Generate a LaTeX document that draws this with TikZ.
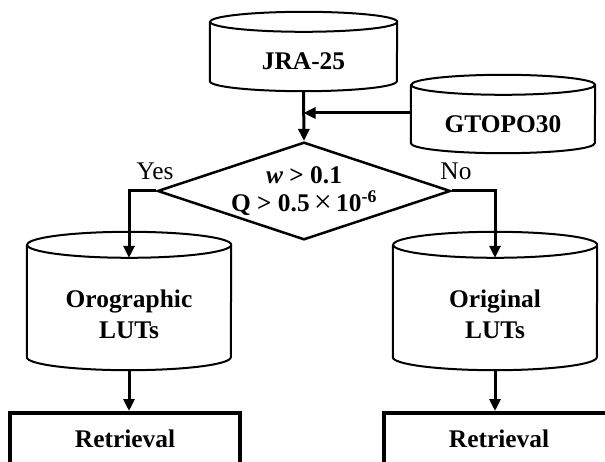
\documentclass[tikz,border=0pt]{standalone}
\usepackage{fontspec}
\setmainfont{Liberation Serif}
\usetikzlibrary{shapes.geometric, arrows.meta, positioning}
\tikzset{
    x=1pt, y=1pt, % one unit is one pixel of the figure
    >={Triangle[length=12pt,width=11pt]}, % filled arrow heads
    every node/.style={font=\fontsize{25.4}{30}\selectfont},
    db/.style={rectangle, align=center, inner sep=0pt, font=\fontsize{25.4}{31}\selectfont\bfseries}, % body of a data base, outline by \drum
    decision/.style={diamond, draw, line width=2.5pt, aspect=3, inner sep=0pt, align=center, font=\fontsize{25.4}{28}\selectfont\bfseries},
    result/.style={rectangle, draw, line width=4pt, minimum width=230pt, minimum height=52pt, font=\fontsize{25.4}{30}\selectfont\bfseries},
    flow/.style={->, line width=3pt}, % connectors
}
% outline of a data base round node #1: x radius #2, y radius #3
\newcommand{\drum}[3]{%
    \draw[line width=2pt] ([yshift=#3]#1.north west) -- ([yshift=#3]#1.south west)
        arc[start angle=180, end angle=360, x radius=#2, y radius=#3]
        -- ([yshift=#3]#1.north east)
        arc[start angle=0, end angle=360, x radius=#2, y radius=#3];}
\begin{document}
\begin{tikzpicture}
    \useasboundingbox (0,0) rectangle (605,461);
    \clip (0,0) rectangle (605,461);
    \node[db, minimum width=187pt, minimum height=59pt] (jra) at (303.5,399.5) {JRA-25};
    \node[db, minimum width=184pt, minimum height=58pt] (gtopo) at (503,337) {GTOPO30};
    \node[decision] (cond) at (304,270) {\textit{w} > 0.1\\Q > 0.5\,{\mdseries\fontsize{32}{28}\selectfont\raisebox{-1pt}{×}}\,10\textsuperscript{-6}};
    \node[db, minimum width=204pt, minimum height=112pt] (oro) at (129,147) {Orographic\\LUTs};
    \node[db, minimum width=204pt, minimum height=112pt] (orig) at (495,147) {Original\\LUTs};
    \node[result] (ret1) at (125,22) {Retrieval};
    \node[result] (ret2) at (499,22) {Retrieval};
    \node[anchor=base] (yes) at (155,281) {Yes};
    \node[anchor=base] (no) at (456,281) {No};
    \drum{jra}{93.5pt}{10pt}
    \drum{gtopo}{92pt}{10pt}
    \drum{oro}{102pt}{13pt}
    \drum{orig}{102pt}{13pt}
    % connectors
    \draw[flow] (jra.south) -- (cond.north);
    \draw[flow] ([yshift=11pt]gtopo.west) -- ([yshift=11pt]gtopo.west -| jra.south);
    \draw[flow] (cond.west) -| (oro.north);
    \draw[flow] (cond.east) -| (orig.north);
    \draw[flow] (oro.south) -- (oro.south |- ret1.north);
    \draw[flow] (orig.south) -- (orig.south |- ret2.north);
\end{tikzpicture}
\end{document}
